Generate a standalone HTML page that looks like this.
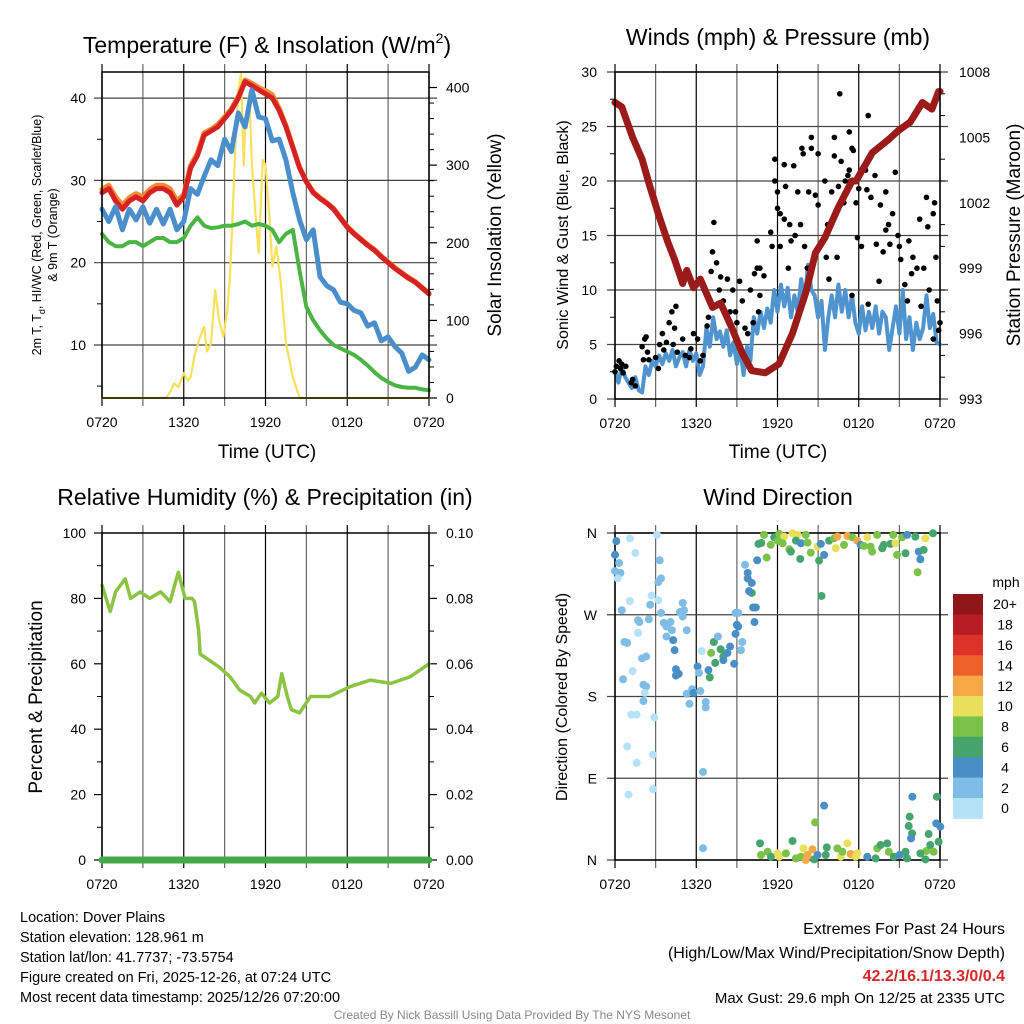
<!DOCTYPE html>
<html><head><meta charset="utf-8">
<style>
html,body{margin:0;padding:0;background:#fff;}
svg{display:block;font-family:"Liberation Sans",Arial,sans-serif;}
</style></head>
<body>
<svg id="root" width="1024" height="1024" viewBox="0 0 1024 1024" xmlns="http://www.w3.org/2000/svg">
<rect width="1024" height="1024" fill="#fff"/>
<g id="g1"></g>
<g id="g2"></g>
<g id="g3"></g>
<g id="g4"></g>
<g font-size="14.5" fill="#000">
<text x="20" y="922">Location: Dover Plains</text>
<text x="20" y="942">Station elevation: 128.961 m</text>
<text x="20" y="962">Station lat/lon: 41.7737; -73.5754</text>
<text x="20" y="982">Figure created on Fri, 2025-12-26, at 07:24 UTC</text>
<text x="20" y="1002">Most recent data timestamp: 2025/12/26 07:20:00</text>
<text x="1005" y="934" text-anchor="end" font-size="16">Extremes For Past 24 Hours</text>
<text x="1005" y="958" text-anchor="end" font-size="16">(High/Low/Max Wind/Precipitation/Snow Depth)</text>
<text x="1005" y="981" text-anchor="end" font-size="16" font-weight="bold" fill="#d62728">42.2/16.1/13.3/0/0.4</text>
<text x="1005" y="1003" text-anchor="end" font-size="15">Max Gust: 29.6 mph On 12/25 at 2335 UTC</text>
<text x="512" y="1019" text-anchor="middle" font-size="12" fill="#888">Created By Nick Bassill Using Data Provided By The NYS Mesonet</text>
</g>
</svg>
<script>
// ---------- DATA ----------
const xTickLabels = ["0720","1320","1920","0120","0720"];
const halfHours = [0,0.5,1,1.5,2,2.5,3,3.5,4,4.5,5,5.5,6,6.5,7,7.5,8,8.5,9,9.5,10,10.5,11,11.5,12,12.5,13,13.5,14,14.5,15,15.5,16,16.5,17,17.5,18,18.5,19,19.5,20,20.5,21,21.5,22,22.5,23,23.5,24];
const tempRed = [28.5,29,27.5,26.5,27.5,28,27.5,28.5,29,29,28.5,27,28,31.5,33,35.5,36,36.5,37.5,38.5,40,42,41.5,41,40.5,40,38.5,36.5,34,31.5,29.8,28.5,27.8,27.2,26.5,25.4,24.3,23.5,22.8,22.1,21.5,20.7,20,19.3,18.7,18.1,17.6,16.9,16.2];
const temp9mOrange = [28.9,29.4,28,27,27.9,28.4,28,28.9,29.4,29.4,29,27.5,28.3,31.8,33.3,35.8,36.2,36.8,37.7,38.7,40.2,42.2,41.8,41.3,40.9,40.4,38.8,36.7,34.1,31.6,29.9,28.6,27.9,27.3,26.6,25.5,24.4,23.6,22.9,22.2,21.6,20.8,20.1,19.4,18.8,18.2,17.7,17,16.3];
const hiwcBlue = [26.5,25,26.8,24,26.5,25.2,26.8,24.8,26.5,24.7,26.5,24,25,29,28.3,30.5,32.5,31.8,35,33.5,38.2,36.5,41,37.7,37.5,34.8,35,32.5,28.5,25.2,22.8,24,18.3,17.2,16.7,15.2,15,14.2,13.9,12.3,12.7,10.5,11,9.8,9,6.8,7.3,8.8,8.2];
const dewGreen = [23.5,22.5,22,22,22.5,22.5,22,22.5,23,23,22.5,22.5,23,24.5,25.5,24.5,24.2,24.3,24.5,24.5,24.7,25,24.5,24.7,24.5,24,22.5,23.5,24,19,14.6,13,11.8,10.8,10,9.6,9.2,8.8,8.2,7.5,6.7,6,5.5,5.1,4.9,4.8,4.8,4.6,4.5];
const solarHours = [0,4.7,5,5.3,5.6,6,6.3,6.5,6.8,7.2,7.5,7.7,8,8.3,8.6,8.9,9.2,9.4,9.6,9.8,10,10.2,10.4,10.5,10.8,11,11.3,11.5,11.8,12,12.3,12.5,12.8,13.1,13.5,14,14.5,24];
const solarValues = [0,0,8,19,14,32,22,27,55,79,92,60,70,139,100,79,113,160,242,330,393,419,300,349,393,300,229,187,307,300,230,169,195,152,71,27,0,0];
const windHours = Array.from({length:97},(_,i)=>i*0.25);
const sonicWind = [2.5,1.5,3,2,1.5,1,2,0.8,0.6,3,2.2,3.5,3,4,3.2,4.2,3.5,4.5,3,3.8,4.3,3,4.5,3.5,4.2,2.2,3,6.5,4.8,7.5,5.5,6.2,4.8,6.3,4,5.2,3.2,4.5,2.2,4.8,3.5,7.5,6,8,6.5,8.3,7,10,8,10.5,8.5,10.2,7.5,9.5,8,11,9,12.3,10,9.5,7.5,9,4.5,7.5,9.5,7.5,10.5,8,10,7.5,9.5,7,6,8.5,6.3,8,6.5,8.5,6,8,7.5,4.5,6.5,8.5,6,10,5.5,7.5,4.5,7,5.5,6.5,9.5,6.5,7.8,5.2,5];
const gustHours = [0,0.1,0.3,0.4,0.5,0.6,0.8,1.2,1.5,1.3,2,2.2,2.3,2.1,2.4,2.5,3,3.2,3.3,3.5,3.6,3.8,4,4.2,4.4,4.5,4.3,4.6,5,5.2,5.5,5.6,5.8,6.1,6.3,6.5,6.8,6.9,7,7.1,7.3,7.2,7.5,7.7,7.8,8,8.3,8.5,8.7,8.9,9,9.2,9.4,9.6,9.8,10,10.2,10.3,10.5,10.6,10.7,11,10.5,10.7,11.5,11.6,11.8,11.8,12,12,12.2,12.2,12.5,12.5,12.6,12.8,12.9,13,13.2,13.3,13.5,13.7,13.8,13.9,14,14.2,14.3,14.5,14.5,14.7,14.8,15,15,15.5,15.6,15.8,15.7,16,16.2,16.2,16.4,16.5,16.6,16.7,16.9,17,17.2,17.3,17.3,17.5,17.6,17.4,17.5,17.8,17.9,18,18.2,18.5,18.6,18.7,18.7,18.9,19.2,19.3,19.5,19.6,19.8,20,20,20.2,20.3,20.5,20.7,20.9,21,21.1,21.4,21.6,21.7,21.9,22,22.3,22.5,22.6,22.8,23,23.1,23.2,23.5,23.6,23.7,23.5,23.8,24,23.9];
const gustValues = [2.5,3,3.5,2.8,3.2,2.4,3,1.5,1.2,1.8,4.8,5.5,5.7,3.6,4.3,3.6,3.8,2.8,5,6,4.5,5.2,7,8,6.5,8.5,5,4.3,5.5,4,3.8,4.6,6,5.5,3.5,4,6.7,7.5,9,11.7,16.2,13.5,12.5,10,11.2,9,11,8,10,8,7,10.8,9,6.5,6,10,7,11.5,12,8,9.5,11.3,14.5,12,15.3,14,20,22,17.5,19,17,14,16.5,21.5,19.5,12,16,14.5,21.4,15,19,16,23,22.5,14,12,19,24,23,13,18.7,22.5,17.8,20,13,11,16,19,24,22.3,13,19.5,28,21.8,18,20,20.5,21,24.5,23,22.8,20,9.5,18,14.8,19.3,14,21,19.2,26,8.7,18.5,20.5,14.2,10.8,17.8,13.5,15.5,19,16,14.2,17,20.8,15,14,12.8,10.5,9,14.5,11.5,13,12,16.5,8.5,12,18.5,15.8,10,17,18,13,5.5,9,7,6.3];
const pressHours = [0,0.5,1.3,2,2.5,3.2,3.9,4.4,5,5.3,5.8,6.3,7.2,7.8,8.6,9.4,10.1,11.1,12.1,13.1,14.1,14.8,15.5,16.5,17.5,17.8,19,20.2,20.9,21.8,22.7,23.4,23.9,24];
const pressValues = [1006.6,1006.4,1005,1004,1002.9,1001.5,1000.2,999.4,998.3,998.9,998.1,998.5,997.2,997.4,996.3,995.1,994.3,994.2,994.6,996,997.9,999.7,1000.4,1001.8,1003,1003,1004.3,1004.9,1005.3,1005.7,1006.6,1006.3,1007.1,1007.1];
const rhHours = [0,0.6,1,1.7,2.1,2.8,3.5,4.3,5,5.6,6.1,6.6,6.8,7.1,7.2,7.9,8.6,9.4,10.1,10.9,11.2,11.7,12.3,12.9,13.2,13.6,13.9,14.5,15.3,16.7,18.2,19.7,21.2,22.6,24];
const rhValues = [84,76,82,86,80,82,80,82,79,88,80,80,79,70,63,61,59,56,52,50,48,51,48,50,57,50,46,45,50,50,53,55,54,56,60];
const precipHours = [0,24];
const precipValues = [0,0];
const dirHours = [0.1,1.1,3.1,0,1.5,0.3,0,0.4,0.2,3.3,3.2,3.4,2.7,3.2,2.6,1.1,0.5,1.7,1.8,2.5,3.4,3.6,3.8,4.1,3.8,4.2,1.7,0.7,0.9,4.3,4.4,5,5.1,5,5.3,4.8,2,2.3,1.3,0.6,2.1,2.3,2.2,2.1,1.2,1.6,2.9,0.9,2.8,1.6,6.5,2.8,1,6.5,4.5,4.5,4.7,5.3,5.5,5.7,5.8,6.1,6.2,6.3,6.7,6.7,6.4,6.9,7,7.1,7.3,7.4,7.6,7.8,8,8,8.3,8.5,8.8,9.4,9.3,8.9,9.1,9,9.1,8.9,10.3,10.2,10.4,10.1,9.9,10.1,9.8,9.8,9.6,10.5,11.2,10.6,10.8,11,11.5,
11.76,12.13,12.5,12.87,13.11,13.48,13.36,13.73,14.09,14.22,12.99,13.68,14.95,15.2,15.44,15.07,15.81,16.18,16.42,16.91,17.16,17.53,17.89,18.14,18.63,18.87,19.36,19.73,19.85,20.34,20.54,20.71,20.83,21.2,21.45,21.57,22.18,22.43,22.55,22.79,22.92,23.48,22.35,15.25,16.3,18.38,18.99,14.46,12.38,12.01,
10.71,10.78,11.27,11.52,12.01,12.13,12.62,13.11,13.36,13.73,13.92,14.09,14.22,14.58,14.71,14.95,14.78,15.44,15.64,15.56,16.42,16.67,16.79,17.16,17.4,17.77,17.89,18.63,19.24,19.36,19.61,20.1,20.22,20.59,21.03,21.45,21.57,21.76,21.69,21.94,21.86,21.96,23.16,22.99,22.92,23.28,23.53,23.77,23.72,24.02,23.9,22.55];
const dirDegrees = [351,354,358,336,338,327,318,316,310,330,306,310,291,286,281,285,275,264,262,265,272,261,257,262,246,253,250,240,239,242,231,283,275,268,253,273,222,224,208,199,193,191,184,175,160,160,157,125,116,107,97,78,72,13,210,203,205,183,172,188,184,213,206,186,174,168,230,209,201,228,240,217,246,232,224,220,228,235,216,240,231,249,257,259,272,272,262,278,278,294,296,305,310,316,325,330,333,348,349,358,347,
355.3,359,356,342.1,359.7,357.9,351.6,348.7,357.9,349.4,339.5,331.4,345,348,335.9,329.6,351.6,354.2,356,346.9,356.8,355.3,351.6,346.9,355.3,345,357.9,343.2,346.9,348,357.9,348.7,335.9,355.3,337.7,357.9,356,339.5,331.1,341.4,354.2,359.7,316.8,290.7,343.2,345.8,339.5,338.4,348.7,351.6,
18.3,5.5,9.1,3.6,7.3,3.6,7.3,20.9,1.8,3.6,12.8,0,5.5,11.7,0.7,5.5,41.4,59.8,13.9,5.5,12.8,3.6,9.1,18.3,6.6,3.6,7.3,3.6,1.8,12.8,16.5,18.3,9.1,3.6,5.5,9.1,1.8,47.7,37.4,29.3,23.8,69.7,28.6,9.9,0.7,16.5,9.1,69.7,40.3,36.7,20.1,7.3];
const dirSpeeds = [5,0.5,0.5,5,0.5,3,3,3,1.5,3,3,3,1.5,0.5,3,0.5,3,3,3,3,3,3,3,3,3,3,1.5,3,3,5,5,3,3,3,3,3,3,3,0.5,3,3,3,1.5,3,0.5,0.5,1.5,0.5,1.5,0.5,3,1.5,0.5,3,5,5,5,3,3,3,5,5,3,3,3,3,0.5,5,7,9,7,7,3,7,7,5,5,5,5,3,3,5,5,5,3,3,5,5,5,7,5,5,5,5,3,5,9,7,7,9,9,
7,9,11,9,11,11,7,5,9,9,7,7,11,5,5,7,7,9,13,9,13,9,13,5,11,9,9,7,7,7,9,11,9,9,7,5,7,5,5,7,11,7,9,7,11,9,9,9,9,9,
7,9,9,7,11,11,9,7,9,9,11,13,13,13,7,5,9,5,7,7,9,11,9,11,13,11,11,5,7,9,7,7,9,7,5,7,7,7,7,7,5,5,7,9,7,7,9,7,5,5,7,7];
const speedClassLabels = ["0","2","4","6","8","10","12","14","16","18","20+"];
const speedClassColors = ["#b6e2f8","#7fbce6","#4a8ec6","#45a56d","#7bc24a","#e8e05a","#f5a844","#ee6029","#dc3228","#b81c24","#8f1719"];

// ---------- HELPERS ----------
const NS="http://www.w3.org/2000/svg";
function mk(tag, attrs, parent){const e=document.createElementNS(NS,tag);for(const k in attrs)e.setAttribute(k,attrs[k]);parent.appendChild(e);return e;}
function lin(d0,d1,r0,r1){return v=>r0+(v-d0)/(d1-d0)*(r1-r0);}
function txt(parent,x,y,s,size,anchor,extra){const t=mk('text',Object.assign({x:x,y:y,'font-size':size,'text-anchor':anchor||'middle',fill:'#000'},extra||{}),parent);t.textContent=s;return t;}
function frame(g,P,xs){
  for(let h=0;h<=24;h+=3){
    const x=xs(h);
    const l=mk('line',{x1:x,y1:P.y0-8,x2:x,y2:P.y1+8,stroke:(h%6==0?'#000':'#666'),'stroke-width':1.2},g);
    
    
  }
  for(let i=0;i<xTickLabels.length;i++){
    const t=txt(g,xs(i*6),P.y1+29,xTickLabels[i],14);
    
    
  }
}
function hgrid(g,P,y,len){
  const l=mk('line',{x1:P.x0-(len||8),y1:y,x2:P.x1+8,y2:y,stroke:'#444','stroke-width':1.2},g);
  
  
}
function border(g,P){
  const r=mk('rect',{x:P.x0,y:P.y0,width:P.x1-P.x0,height:P.y1-P.y0,fill:'none',stroke:'#000','stroke-width':1.5},g);
  
  
}
function polyline(g,xs,ys,X,Y,color,w,name){
  let d='';for(let i=0;i<X.length;i++)d+=(i?'L':'M')+xs(X[i]).toFixed(1)+','+ys(Y[i]).toFixed(1);
  const p=mk('path',{d:d,fill:'none',stroke:color,'stroke-width':w,'stroke-linejoin':'round','stroke-linecap':'round'},g);
  
  
  return p;
}
function minorTicks(g,x,ys,vals,dir){
  vals.forEach(v=>{const y=ys(v);mk('line',{x1:x,y1:y,x2:x+dir*5,y2:y,stroke:'#000','stroke-width':1},g);});
}

// ---------- PANEL 1 ----------
(function(){
  const g=document.getElementById('g1');
  const P={x0:102,x1:429,y0:72,y1:398};
  const xs=lin(0,24,P.x0,P.x1), yL=lin(3.56,43.17,P.y1,P.y0), yR=lin(0,420,P.y1,P.y0);
  frame(g,P,xs);
  [10,20,30,40].forEach(v=>{hgrid(g,P,yL(v));const t=txt(g,P.x0-16,yL(v)+5,String(v),14,'end');});
  minorTicks(g,P.x0,yL,[5,15,25,35],-1);
  [0,100,200,300,400].forEach(v=>{mk('line',{x1:P.x1,y1:yR(v),x2:P.x1+8,y2:yR(v),stroke:'#000','stroke-width':1.2},g);const t=txt(g,P.x1+17,yR(v)+5,String(v),14,'start');});
  minorTicks(g,P.x1,yR,[20,40,60,80,120,140,160,180,220,240,260,280,320,340,360,380],1);
  polyline(g,xs,yR,solarHours,solarValues,'#f7e15a',2.2,'solar-insolation-line');
  polyline(g,xs,yL,halfHours,temp9mOrange,'#f28a30',5,'temp-9m-line');
  polyline(g,xs,yL,halfHours,tempRed,'#d62222',5,'temp-2m-line');
  polyline(g,xs,yL,halfHours,dewGreen,'#4bb543',4,'dewpoint-line');
  polyline(g,xs,yL,halfHours,hiwcBlue,'#4a8fcb',5,'heat-index-windchill-line');
  border(g,P);
  let t=txt(g,267,53,'',23);t.innerHTML='Temperature (F) &amp; Insolation (W/m<tspan font-size="14" dy="-10">2</tspan><tspan dy="10">)</tspan>';
  
  t=txt(g,267,458,'Time (UTC)',19);
  t=txt(g,0,0,'',12.5,'middle',{transform:'translate(41,235) rotate(-90)'});t.innerHTML='2m T, T<tspan font-size="9" dy="4">d</tspan><tspan dy="-4">, HI/WC (Red, Green, Scarlet/Blue)</tspan>';
  
  t=txt(g,0,0,'& 9m T (Orange)',12.5,'middle',{transform:'translate(57,235) rotate(-90)'});
  t=txt(g,0,0,'Solar Insolation (Yellow)',19,'middle',{transform:'translate(501,235) rotate(-90)'});
})();

// ---------- PANEL 2 ----------
(function(){
  const g=document.getElementById('g2');
  const P={x0:615,x1:940,y0:72,y1:399};
  const xs=lin(0,24,P.x0,P.x1), yL=lin(0,30,P.y1,P.y0), yR=lin(993,1008,P.y1,P.y0);
  frame(g,P,xs);
  [0,5,10,15,20,25,30].forEach(v=>{hgrid(g,P,yL(v));const t=txt(g,P.x0-18,yL(v)+5,String(v),14,'end');});
  minorTicks(g,P.x0,yL,[2.5,7.5,12.5,17.5,22.5,27.5],-1);
  [993,996,999,1002,1005,1008].forEach(v=>{const t=txt(g,P.x1+19,yR(v)+5,String(v),14,'start');});
  minorTicks(g,P.x1,yR,[994,995,997,998,1000,1001,1003,1004,1006,1007],1);
  polyline(g,xs,yL,windHours,sonicWind,'#4f93cf',4,'sonic-wind-line');
  for(let i=0;i<gustHours.length;i++){
    const c=mk('circle',{cx:xs(gustHours[i]),cy:yL(gustValues[i]),r:2.8,fill:'#000'},g);
    
    
  }
  polyline(g,xs,yR,pressHours,pressValues,'#9b1b1b',7,'pressure-line');
  border(g,P);
  let t=txt(g,778,45,'Winds (mph) & Pressure (mb)',23);
  t=txt(g,778,458,'Time (UTC)',19);
  t=txt(g,0,0,'Sonic Wind & Gust (Blue, Black)',16,'middle',{transform:'translate(568,235) rotate(-90)'});
  t=txt(g,0,0,'Station Pressure (Maroon)',19,'middle',{transform:'translate(1020,235) rotate(-90)'});
})();

// ---------- PANEL 3 ----------
(function(){
  const g=document.getElementById('g3');
  const P={x0:102,x1:429,y0:533,y1:860};
  const xs=lin(0,24,P.x0,P.x1), yL=lin(0,100,P.y1,P.y0), yR=lin(0,0.1,P.y1,P.y0);
  frame(g,P,xs);
  [0,20,40,60,80,100].forEach(v=>{mk('line',{x1:P.x0-8,y1:yL(v),x2:P.x0,y2:yL(v),stroke:'#000','stroke-width':1.2},g);const t=txt(g,P.x0-16,yL(v)+5,String(v),14,'end');});
  minorTicks(g,P.x0,yL,[10,30,50,70,90],-1);
  ['0.00','0.02','0.04','0.06','0.08','0.10'].forEach((s,i)=>{const v=i*0.02;mk('line',{x1:P.x1,y1:yR(v),x2:P.x1+8,y2:yR(v),stroke:'#000','stroke-width':1.2},g);const t=txt(g,P.x1+17,yR(v)+5,s,14,'start');});
  minorTicks(g,P.x1,yR,[0.01,0.03,0.05,0.07,0.09],1);
  polyline(g,xs,yL,rhHours,rhValues,'#8bc443',3.5,'relative-humidity-line');
  border(g,P);
  polyline(g,xs,yR,precipHours,precipValues,'#43a847',7,'precipitation-line');
  let t=txt(g,265,505,'Relative Humidity (%) & Precipitation (in)',23);
  t=txt(g,0,0,'Percent & Precipitation',19,'middle',{transform:'translate(42,697) rotate(-90)'});
})();

// ---------- PANEL 4 ----------
(function(){
  const g=document.getElementById('g4');
  const P={x0:615,x1:940,y0:533,y1:860};
  const xs=lin(0,24,P.x0,P.x1), yD=lin(0,360,P.y1,P.y0);
  frame(g,P,xs);
  ['N','E','S','W','N'].forEach((s,i)=>{hgrid(g,P,yD(i*90));const t=txt(g,P.x0-18,yD(i*90)+5,s,14,'end');});
  border(g,P);
  for(let i=0;i<dirHours.length;i++){
    const k=Math.min(10,Math.floor(dirSpeeds[i]/2));
    const c=mk('circle',{cx:xs(dirHours[i]),cy:yD(dirDegrees[i]),r:4,fill:speedClassColors[k]},g);
    
    
  }
  let t=txt(g,778,505,'Wind Direction',23);
  t=txt(g,0,0,'Direction (Colored By Speed)',16,'middle',{transform:'translate(567,697) rotate(-90)'});
  const cb=mk('g',{},g);
  
  
  const top=594,bh=20.4;
  for(let i=0;i<11;i++){
    const k=10-i;
    const r=mk('rect',{x:953,y:top+i*bh,width:30,height:bh+0.5,fill:speedClassColors[k]},cb);
    
    
    const tt=txt(cb,1005,top+i*bh+bh/2+5,speedClassLabels[k],14);
    
    
  }
  t=txt(cb,1006,587,'mph',14);
})();
</script>
</body></html>
